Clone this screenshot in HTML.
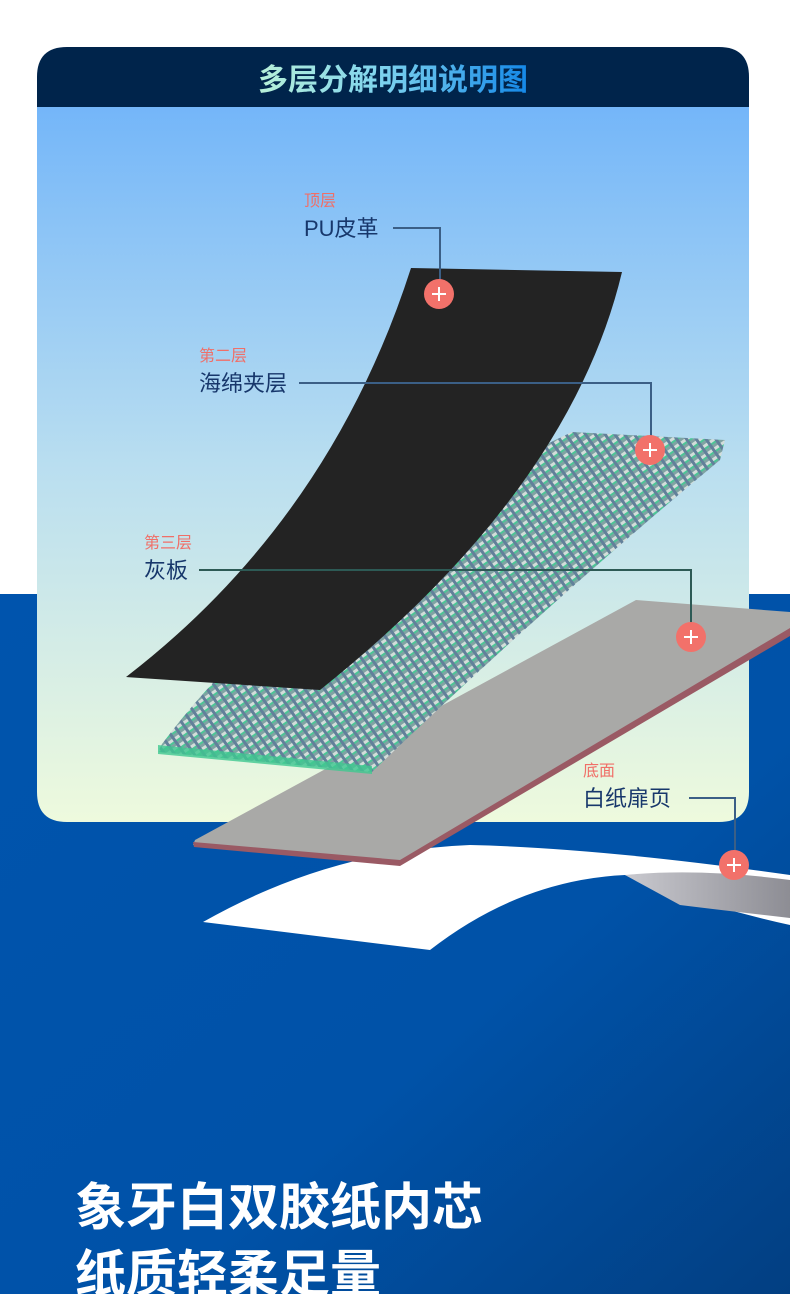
<!DOCTYPE html>
<html><head><meta charset="utf-8"><style>
html,body{margin:0;padding:0;}
body{width:790px;height:1294px;overflow:hidden;position:relative;background:#fff;font-family:"Liberation Sans","Noto Sans CJK SC",sans-serif;}
</style></head><body>
<svg width="790" height="1294" viewBox="0 0 790 1294" xmlns="http://www.w3.org/2000/svg" style="position:absolute;left:0;top:0">
<defs>
<linearGradient id="blue" x1="0" y1="0" x2="1" y2="1">
<stop offset="0" stop-color="#0054ad"/><stop offset="0.6" stop-color="#0052a8"/><stop offset="1" stop-color="#023f82"/>
</linearGradient>
<linearGradient id="card" x1="0" y1="0" x2="0" y2="1">
<stop offset="0" stop-color="#74b6f9"/><stop offset="0.5" stop-color="#b9def0"/><stop offset="1" stop-color="#eefadd"/>
</linearGradient>
<linearGradient id="title" x1="0" y1="0" x2="1" y2="0">
<stop offset="0" stop-color="#b8f0d8"/><stop offset="0.45" stop-color="#7fd4ee"/><stop offset="1" stop-color="#1488e8"/>
</linearGradient>
<pattern id="hc" width="8" height="8" patternUnits="userSpaceOnUse" patternTransform="rotate(-35)">
<rect width="8" height="8" fill="#7fa3a3"/>
<rect x="0" y="0" width="5" height="3" fill="#d3ddda"/>
<rect x="0" y="3" width="5" height="2" fill="#4cc596"/>
<rect x="5" y="0" width="3" height="8" fill="#62809a"/>
</pattern>
<linearGradient id="gr" x1="0" y1="0" x2="1" y2="0">
<stop offset="0" stop-color="#c9c9cf"/><stop offset="1" stop-color="#8d8d94"/>
</linearGradient>
</defs>
<rect x="0" y="594" width="790" height="700" fill="url(#blue)"/>
<path d="M37,77 Q37,47 67,47 H719 Q749,47 749,77 V107 H37 Z" fill="#00244b"/>
<path d="M37,107 H749 V792 Q749,822 719,822 H67 Q37,822 37,792 Z" fill="url(#card)"/>
<text x="393" y="90" text-anchor="middle" font-size="30" font-weight="bold" fill="url(#title)" font-family="Liberation Sans,Noto Sans CJK SC,sans-serif">多层分解明细说明图</text>

<path d="M203,922 Q330,850 470,845 Q600,848 790,875 L790,925 Q700,905 625,875 Q520,880 430,950 Z" fill="#ffffff"/>
<path d="M625,875 Q700,868 790,880 L790,918 Q720,910 680,905 Z" fill="url(#gr)"/>
<path d="M636,600 L790,612 L790,632 L400,864 L193,845 L195,840 Z" fill="#a9a9a7"/>
<path d="M790,628 L400,860 L193,842 L194,847 L400,866 L790,636 Z" fill="#9a5a64"/>
<path d="M572,432 L725,440 L720,460 Q540,610 372,772 L158,752 L162,744 Q300,560 572,432 Z" fill="url(#hc)"/>
<path d="M158,745 L372,766 L372,774 L158,754 Z" fill="#3fc890" opacity="0.8"/>
<path d="M411,268 L622,272 Q570,490 320,690 L126,677 Q330,520 411,268 Z" fill="#232323"/>

<g font-family="Liberation Sans,Noto Sans CJK SC,sans-serif">
<text x="304" y="206" font-size="16" fill="#f06f68">顶层</text>
<text x="304" y="236" font-size="22" fill="#17376b">PU皮革</text>
<polyline points="393,228 440,228 440,294" fill="none" stroke="#3b5f86" stroke-width="2"/>
<text x="199" y="361" font-size="16" fill="#f06f68">第二层</text>
<text x="199" y="391" font-size="22" fill="#17376b">海绵夹层</text>
<polyline points="299,383 651,383 651,450" fill="none" stroke="#3b5f86" stroke-width="2"/>
<text x="144" y="548" font-size="16" fill="#f06f68">第三层</text>
<text x="144" y="578" font-size="22" fill="#17376b">灰板</text>
<polyline points="199,570 691,570 691,637" fill="none" stroke="#2d5a55" stroke-width="2"/>
<text x="583" y="776" font-size="16" fill="#f06f68">底面</text>
<text x="583" y="806" font-size="22" fill="#17376b">白纸扉页</text>
<polyline points="689,798 735,798 735,865" fill="none" stroke="#3b5f86" stroke-width="2"/>
</g>
<g fill="#f2716a" stroke="#fff" stroke-width="2">
<circle cx="439" cy="294" r="15" stroke="none"/><circle cx="650" cy="450" r="15" stroke="none"/>
<circle cx="691" cy="637" r="15" stroke="none"/><circle cx="734" cy="865" r="15" stroke="none"/>
<path d="M432,294 H446 M439,287 V301 M643,450 H657 M650,443 V457 M684,637 H698 M691,630 V644 M727,865 H741 M734,858 V872"/>
</g>
<g font-family="Liberation Sans,Noto Sans CJK SC,sans-serif" font-weight="bold" fill="#fff" font-size="51">
<text x="75" y="1225">象牙白双胶纸内芯</text>
<text x="75" y="1292">纸质轻柔足量</text>
</g>
</svg>
</body></html>
